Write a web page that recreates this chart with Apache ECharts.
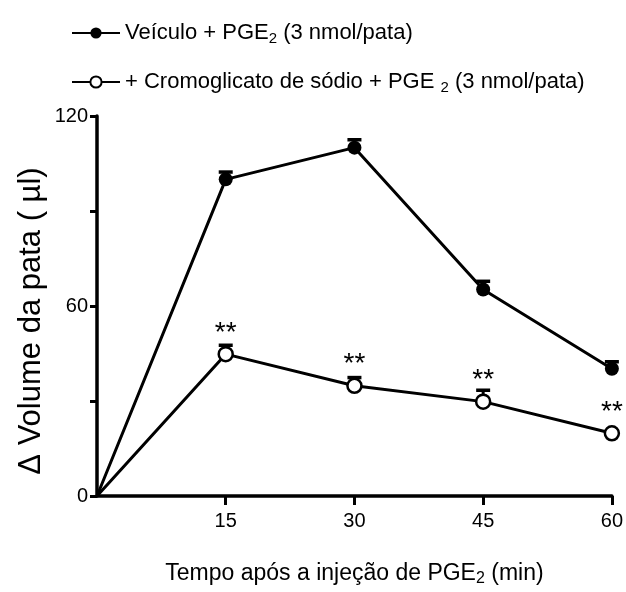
<!DOCTYPE html>
<html><head><meta charset="utf-8">
<script src="https://cdn.jsdelivr.net/npm/echarts@6/dist/echarts.min.js"></script>
<style>html,body{margin:0;padding:0;background:#fff}#c{width:626px;height:592px}</style>
</head><body><div id="c"></div>
<script>
var times = [0, 15, 30, 45, 60];
var vehicle = [0, 100, 110, 65.2, 40.2];
var vehicleErrTop = [0, 102.3, 112.5, 67.8, 42.4];
var cromo = [0, 44.8, 34.8, 29.8, 19.8];
var cromoErrTop = [0, 47.6, 37.4, 33.4, 20.4];
var sigMarks = ['', '**', '**', '**', '**'];
var xTickValues = [15, 30, 45, 60];
var yTickLabels = [0, 60, 120];

var FONT = "'Liberation Sans',Arial,sans-serif";

function pts(vals) {
  return times.map(function (t, i) {
    return { value: [t, vals[i]], symbol: i === 0 ? 'none' : 'circle' };
  });
}
function errData(vals, tops) {
  return times.map(function (t, i) { return [t, vals[i], tops[i]]; }).filter(function (d) { return d[0] !== 0; });
}
function errRender(params, api) {
  var x = api.value(0), y = api.value(1), top = api.value(2);
  var p0 = api.coord([x, y]), p1 = api.coord([x, top]);
  return {
    type: 'group', children: [
      { type: 'line', shape: { x1: p0[0], y1: p0[1], x2: p1[0], y2: p1[1] }, style: { stroke: '#000', lineWidth: 3 } },
      { type: 'line', shape: { x1: p1[0] - 7, y1: p1[1], x2: p1[0] + 7, y2: p1[1] }, style: { stroke: '#000', lineWidth: 3.5 } }
    ]
  };
}

var rich = {
  a: { fontSize: 22, fontFamily: FONT, color: '#000' },
  s: { fontSize: 15, fontFamily: FONT, color: '#000', padding: [11, 0, 0, 0] }
};

var chart = echarts.init(document.getElementById('c'));
chart.setOption({
  backgroundColor: '#fff',
  animation: false,
  grid: { left: 97, right: 13, top: 116, bottom: 93 },
  legend: {
    orient: 'vertical', left: 66, top: 17, itemGap: 25, itemWidth: 48, itemHeight: 14,
    data: ['veh', 'cro'],
    formatter: function (n) {
      return n === 'veh' ? '{a|Veículo + PGE}{s|2}{a| (3 nmol/pata)}' : '{a|+ Cromoglicato de sódio + PGE }{s|2}{a| (3 nmol/pata)}';
    },
    textStyle: { rich: rich, fontSize: 22, fontFamily: FONT, color: '#000' }
  },
  graphic: [{
    type: 'text', x: 31, y: 321, rotation: Math.PI / 2,
    style: { text: 'Δ Volume da pata ( µl)', fontSize: 31, fontFamily: FONT, fill: '#000', align: 'center', verticalAlign: 'middle' }
  }],
  xAxis: {
    type: 'value', min: 0, max: 60, interval: 15,
    name: '{a|Tempo após a injeção de PGE}{s|2}{a| (min)}',
    nameLocation: 'middle', nameGap: 64,
    nameTextStyle: { rich: { a: { fontSize: 23, fontFamily: FONT, color: '#000' }, s: { fontSize: 16, fontFamily: FONT, color: '#000', padding: [11, 0, 0, 0] } } },
    axisLine: { lineStyle: { color: '#000', width: 3.5 } },
    axisTick: { length: 9, customValues: xTickValues, lineStyle: { color: '#000', width: 3 } },
    splitLine: { show: false },
    axisLabel: { fontSize: 20, fontFamily: FONT, color: '#000', margin: 15, customValues: xTickValues }
  },
  yAxis: {
    type: 'value', min: 0, max: 120, interval: 30,
    axisLine: { show: true, lineStyle: { color: '#000', width: 3.5 } },
    axisTick: { show: true, length: 7, lineStyle: { color: '#000', width: 3 } },
    splitLine: { show: false },
    axisLabel: { fontSize: 20, fontFamily: FONT, color: '#000', margin: 9, formatter: function (v) { return yTickLabels.indexOf(v) >= 0 ? String(v) : ''; } }
  },
  series: [
    { type: 'custom', renderItem: errRender, data: errData(vehicle, vehicleErrTop), z: 1, silent: true },
    { type: 'custom', renderItem: errRender, data: errData(cromo, cromoErrTop), z: 1, silent: true },
    {
      name: 'veh', type: 'line', data: pts(vehicle), z: 3,
      symbol: 'circle', symbolSize: 14,
      lineStyle: { color: '#000', width: 3 },
      itemStyle: { color: '#000', borderColor: '#000', borderWidth: 0 }
    },
    {
      name: 'cro', type: 'line', data: pts(cromo), z: 3,
      symbol: 'circle', symbolSize: 14,
      lineStyle: { color: '#000', width: 3 },
      itemStyle: { color: '#fff', borderColor: '#000', borderWidth: 2.5 },
      label: {
        show: true, position: 'top', distance: -1,
        formatter: function (p) { return sigMarks[p.dataIndex]; },
        fontSize: 28, fontFamily: FONT, color: '#000'
      }
    }
  ]
});
</script></body></html>
